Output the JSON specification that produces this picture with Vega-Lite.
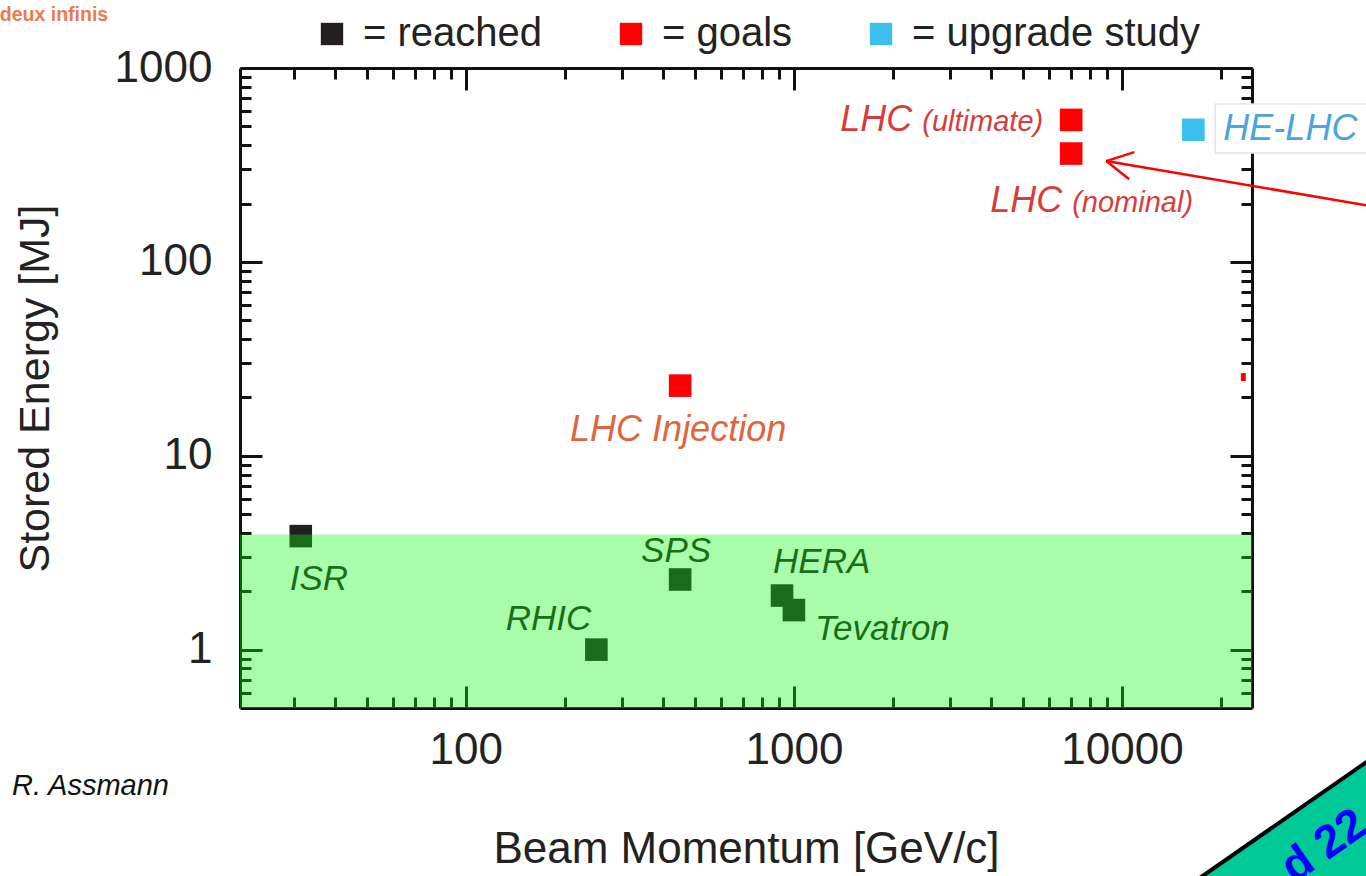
{
  "$schema": "https://vega.github.io/schema/vega-lite/v6.json",
  "width": 1012,
  "height": 640,
  "autosize": "none",
  "padding": {"left": 240, "top": 68, "right": 114, "bottom": 168},
  "background": "white",
  "config": {"view": {"stroke": null}, "font": "Liberation Sans"},
  "datasets": {
    "acc": [
      {"name": "ISR", "p": 31.4, "E": 3.85, "cat": "= reached"},
      {"name": "RHIC", "p": 250, "E": 1.0, "cat": "= reached"},
      {"name": "SPS", "p": 450, "E": 2.3, "cat": "= reached"},
      {"name": "HERA", "p": 920, "E": 1.9, "cat": "= reached"},
      {"name": "Tevatron", "p": 1000, "E": 1.6, "cat": "= reached"},
      {"name": "LHC Injection", "p": 450, "E": 23, "cat": "= goals"},
      {"name": "LHC (nominal)", "p": 7000, "E": 362, "cat": "= goals"},
      {"name": "LHC (ultimate)", "p": 7000, "E": 540, "cat": "= goals"},
      {"name": "HE-LHC", "p": 16500, "E": 480, "cat": "= upgrade study"}
    ],
    "band": [{"lo": 0.5, "hi": 3.93}],
    "one": [{"k": 1}]
  },
  "data": {"name": "acc"},
  "resolve": {"scale": {"x": "shared", "y": "shared"}, "axis": {"x": "independent", "y": "independent"}},
  "layer": [
    {
      "data": {"name": "one"},
      "mark": {"type": "rect", "fill": "white", "stroke": "#e4e4e4", "strokeWidth": 1.5},
      "encoding": {
        "x": {"datum": 19250, "type": "quantitative", "scale": {"type": "log", "domain": [20.5, 24900], "nice": false}, "axis": null},
        "x2": {"datum": 60000},
        "y": {"datum": 652, "type": "quantitative", "scale": {"type": "log", "domain": [0.5, 1000], "nice": false}, "axis": null},
        "y2": {"datum": 364}
      }
    },
    {
      "mark": {"type": "point", "shape": "square", "filled": true, "opacity": 1, "size": 510, "strokeWidth": 0},
      "encoding": {
        "x": {
          "field": "p", "type": "quantitative",
          "scale": {"type": "log", "domain": [20.5, 24900], "nice": false},
          "axis": {
            "orient": "bottom",
            "values": [30, 40, 50, 60, 70, 80, 90, 100, 200, 300, 400, 500, 600, 700, 800, 900, 1000, 2000, 3000, 4000, 5000, 6000, 7000, 8000, 9000, 10000, 20000],
            "labelExpr": "indexof([100, 1000, 10000], datum.value) >= 0 ? format(datum.value, 'd') : ''",
            "tickSize": {"condition": {"test": "indexof([100, 1000, 10000], datum.value) >= 0", "value": -22}, "value": -11},
            "tickWidth": 3, "tickColor": "#111", "domainColor": "#111", "domainWidth": 3, "grid": false,
            "labelFont": "Liberation Sans", "labelFontSize": 44, "labelColor": "#222", "labelPadding": 42, "labelFlush": false, "labelOverlap": false,
            "title": "Beam Momentum [GeV/c]", "titleFont": "Liberation Sans", "titleFontSize": 44, "titleFontWeight": "normal", "titleColor": "#222", "titlePadding": 44
          }
        },
        "y": {
          "field": "E", "type": "quantitative",
          "scale": {"type": "log", "domain": [0.5, 1000], "nice": false},
          "axis": {
            "orient": "left",
            "values": [0.6, 0.7, 0.8, 0.9, 1, 2, 3, 4, 5, 6, 7, 8, 9, 10, 20, 30, 40, 50, 60, 70, 80, 90, 100, 200, 300, 400, 500, 600, 700, 800, 900, 1000],
            "labelExpr": "indexof([1, 10, 100, 1000], datum.value) >= 0 ? format(datum.value, 'd') : ''",
            "tickSize": {"condition": {"test": "indexof([1, 10, 100, 1000], datum.value) >= 0", "value": -22}, "value": -11},
            "tickWidth": 3, "tickColor": "#111", "domainColor": "#111", "domainWidth": 3, "grid": false,
            "labelFont": "Liberation Sans", "labelFontSize": 44, "labelColor": "#222", "labelPadding": 50, "labelFlush": false, "labelOverlap": false,
            "title": "Stored Energy [MJ]", "titleFont": "Liberation Sans", "titleFontSize": 43, "titleFontWeight": "normal", "titleColor": "#222", "titlePadding": 57
          }
        },
        "color": {
          "field": "cat", "type": "nominal",
          "scale": {"domain": ["= reached", "= goals", "= upgrade study"], "range": ["#231f20", "#ff0000", "#3bbfee"]},
          "legend": {
            "orient": "none", "legendX": 72, "legendY": -54, "direction": "horizontal", "title": null,
            "symbolType": "square", "symbolSize": 500, "symbolStrokeWidth": 0, "symbolOpacity": 1,
            "labelFont": "Liberation Sans", "labelFontSize": 40, "labelColor": "#222", "labelOffset": 11,
            "columnPadding": 68, "labelLimit": 500
          }
        }
      }
    },
    {
      "mark": {"type": "point", "opacity": 0},
      "encoding": {
        "x": {
          "field": "p", "type": "quantitative",
          "scale": {"type": "log", "domain": [20.5, 24900], "nice": false},
          "axis": {
            "orient": "top",
            "values": [30, 40, 50, 60, 70, 80, 90, 100, 200, 300, 400, 500, 600, 700, 800, 900, 1000, 2000, 3000, 4000, 5000, 6000, 7000, 8000, 9000, 10000, 20000],
            "labels": false,
            "tickSize": {"condition": {"test": "indexof([100, 1000, 10000], datum.value) >= 0", "value": -22}, "value": -11},
            "tickWidth": 3, "tickColor": "#111", "domainColor": "#111", "domainWidth": 3, "grid": false, "title": null
          }
        },
        "y": {
          "field": "E", "type": "quantitative",
          "scale": {"type": "log", "domain": [0.5, 1000], "nice": false},
          "axis": {
            "orient": "right",
            "values": [0.6, 0.7, 0.8, 0.9, 1, 2, 3, 4, 5, 6, 7, 8, 9, 10, 20, 30, 40, 50, 60, 70, 80, 90, 100, 200, 300, 400, 500, 600, 700, 800, 900, 1000],
            "labels": false,
            "tickSize": {"condition": {"test": "indexof([1, 10, 100, 1000], datum.value) >= 0", "value": -22}, "value": -11},
            "tickWidth": 3, "tickColor": "#111", "domainColor": "#111", "domainWidth": 3, "grid": false, "title": null
          }
        }
      }
    },
    {
      "transform": [{"filter": "datum.name === 'ISR'"}],
      "mark": {"type": "text", "text": "ISR", "align": "left", "baseline": "alphabetic", "dx": -11, "dy": 54, "font": "Liberation Sans", "fontStyle": "italic", "fontSize": 35, "color": "#231f20"},
      "encoding": {
        "x": {"field": "p", "type": "quantitative", "scale": {"type": "log", "domain": [20.5, 24900], "nice": false}, "axis": null},
        "y": {"field": "E", "type": "quantitative", "scale": {"type": "log", "domain": [0.5, 1000], "nice": false}, "axis": null}
      }
    },
    {
      "transform": [{"filter": "datum.name === 'RHIC'"}],
      "mark": {"type": "text", "text": "RHIC", "align": "right", "baseline": "alphabetic", "dx": -5, "dy": -20, "font": "Liberation Sans", "fontStyle": "italic", "fontSize": 35, "color": "#231f20"},
      "encoding": {
        "x": {"field": "p", "type": "quantitative", "scale": {"type": "log", "domain": [20.5, 24900], "nice": false}, "axis": null},
        "y": {"field": "E", "type": "quantitative", "scale": {"type": "log", "domain": [0.5, 1000], "nice": false}, "axis": null}
      }
    },
    {
      "transform": [{"filter": "datum.name === 'SPS'"}],
      "mark": {"type": "text", "text": "SPS", "align": "center", "baseline": "alphabetic", "dx": -4, "dy": -18, "font": "Liberation Sans", "fontStyle": "italic", "fontSize": 35, "color": "#231f20"},
      "encoding": {
        "x": {"field": "p", "type": "quantitative", "scale": {"type": "log", "domain": [20.5, 24900], "nice": false}, "axis": null},
        "y": {"field": "E", "type": "quantitative", "scale": {"type": "log", "domain": [0.5, 1000], "nice": false}, "axis": null}
      }
    },
    {
      "transform": [{"filter": "datum.name === 'HERA'"}],
      "mark": {"type": "text", "text": "HERA", "align": "left", "baseline": "alphabetic", "dx": -9, "dy": -23, "font": "Liberation Sans", "fontStyle": "italic", "fontSize": 35, "color": "#231f20"},
      "encoding": {
        "x": {"field": "p", "type": "quantitative", "scale": {"type": "log", "domain": [20.5, 24900], "nice": false}, "axis": null},
        "y": {"field": "E", "type": "quantitative", "scale": {"type": "log", "domain": [0.5, 1000], "nice": false}, "axis": null}
      }
    },
    {
      "transform": [{"filter": "datum.name === 'Tevatron'"}],
      "mark": {"type": "text", "text": "Tevatron", "align": "left", "baseline": "alphabetic", "dx": 21, "dy": 30, "font": "Liberation Sans", "fontStyle": "italic", "fontSize": 35, "color": "#231f20"},
      "encoding": {
        "x": {"field": "p", "type": "quantitative", "scale": {"type": "log", "domain": [20.5, 24900], "nice": false}, "axis": null},
        "y": {"field": "E", "type": "quantitative", "scale": {"type": "log", "domain": [0.5, 1000], "nice": false}, "axis": null}
      }
    },
    {
      "transform": [{"filter": "datum.name === 'LHC Injection'"}],
      "mark": {"type": "text", "text": "LHC Injection", "align": "center", "baseline": "alphabetic", "dx": -2, "dy": 55, "font": "Liberation Sans", "fontStyle": "italic", "fontSize": 36, "color": "#e0643c"},
      "encoding": {
        "x": {"field": "p", "type": "quantitative", "scale": {"type": "log", "domain": [20.5, 24900], "nice": false}, "axis": null},
        "y": {"field": "E", "type": "quantitative", "scale": {"type": "log", "domain": [0.5, 1000], "nice": false}, "axis": null}
      }
    },
    {
      "transform": [{"filter": "datum.name === 'LHC (ultimate)'"}],
      "mark": {"type": "text", "text": "LHC", "align": "right", "baseline": "alphabetic", "dx": -159, "dy": 11, "font": "Liberation Sans", "fontStyle": "italic", "fontSize": 36, "color": "#d63c3c"},
      "encoding": {
        "x": {"field": "p", "type": "quantitative", "scale": {"type": "log", "domain": [20.5, 24900], "nice": false}, "axis": null},
        "y": {"field": "E", "type": "quantitative", "scale": {"type": "log", "domain": [0.5, 1000], "nice": false}, "axis": null}
      }
    },
    {
      "transform": [{"filter": "datum.name === 'LHC (ultimate)'"}],
      "mark": {"type": "text", "text": "(ultimate)", "align": "right", "baseline": "alphabetic", "dx": -28, "dy": 11, "font": "Liberation Sans", "fontStyle": "italic", "fontSize": 29, "color": "#d63c3c"},
      "encoding": {
        "x": {"field": "p", "type": "quantitative", "scale": {"type": "log", "domain": [20.5, 24900], "nice": false}, "axis": null},
        "y": {"field": "E", "type": "quantitative", "scale": {"type": "log", "domain": [0.5, 1000], "nice": false}, "axis": null}
      }
    },
    {
      "transform": [{"filter": "datum.name === 'LHC (nominal)'"}],
      "mark": {"type": "text", "text": "LHC", "align": "left", "baseline": "alphabetic", "dx": -81, "dy": 58, "font": "Liberation Sans", "fontStyle": "italic", "fontSize": 36, "color": "#d63c3c"},
      "encoding": {
        "x": {"field": "p", "type": "quantitative", "scale": {"type": "log", "domain": [20.5, 24900], "nice": false}, "axis": null},
        "y": {"field": "E", "type": "quantitative", "scale": {"type": "log", "domain": [0.5, 1000], "nice": false}, "axis": null}
      }
    },
    {
      "transform": [{"filter": "datum.name === 'LHC (nominal)'"}],
      "mark": {"type": "text", "text": "(nominal)", "align": "left", "baseline": "alphabetic", "dx": 1, "dy": 58, "font": "Liberation Sans", "fontStyle": "italic", "fontSize": 29, "color": "#d63c3c"},
      "encoding": {
        "x": {"field": "p", "type": "quantitative", "scale": {"type": "log", "domain": [20.5, 24900], "nice": false}, "axis": null},
        "y": {"field": "E", "type": "quantitative", "scale": {"type": "log", "domain": [0.5, 1000], "nice": false}, "axis": null}
      }
    },
    {
      "transform": [{"filter": "datum.name === 'HE-LHC'"}],
      "mark": {"type": "text", "text": "HE-LHC", "align": "left", "baseline": "alphabetic", "dx": 30, "dy": 10, "font": "Liberation Sans", "fontStyle": "italic", "fontSize": 36, "color": "#4aa5dc"},
      "encoding": {
        "x": {"field": "p", "type": "quantitative", "scale": {"type": "log", "domain": [20.5, 24900], "nice": false}, "axis": null},
        "y": {"field": "E", "type": "quantitative", "scale": {"type": "log", "domain": [0.5, 1000], "nice": false}, "axis": null}
      }
    },
    {
      "data": {"name": "one"},
      "mark": {"type": "rule", "color": "#ff0000", "strokeWidth": 2.5},
      "encoding": {
        "x": {"datum": 8950, "type": "quantitative", "scale": {"type": "log", "domain": [20.5, 24900], "nice": false}, "axis": null},
        "x2": {"datum": 70560},
        "y": {"datum": 331, "type": "quantitative", "scale": {"type": "log", "domain": [0.5, 1000], "nice": false}, "axis": null},
        "y2": {"datum": 183}
      }
    },
    {
      "data": {"name": "one"},
      "mark": {"type": "rule", "color": "#ff0000", "strokeWidth": 2.5},
      "encoding": {
        "x": {"datum": 8950, "type": "quantitative", "scale": {"type": "log", "domain": [20.5, 24900], "nice": false}, "axis": null},
        "x2": {"datum": 10900},
        "y": {"datum": 331, "type": "quantitative", "scale": {"type": "log", "domain": [0.5, 1000], "nice": false}, "axis": null},
        "y2": {"datum": 368}
      }
    },
    {
      "data": {"name": "one"},
      "mark": {"type": "rule", "color": "#ff0000", "strokeWidth": 2.5},
      "encoding": {
        "x": {"datum": 8950, "type": "quantitative", "scale": {"type": "log", "domain": [20.5, 24900], "nice": false}, "axis": null},
        "x2": {"datum": 10520},
        "y": {"datum": 331, "type": "quantitative", "scale": {"type": "log", "domain": [0.5, 1000], "nice": false}, "axis": null},
        "y2": {"datum": 267}
      }
    },
    {
      "data": {"name": "one"},
      "mark": {"type": "rule", "color": "#ff0000", "strokeWidth": 5},
      "encoding": {
        "x": {"datum": 23430, "type": "quantitative", "scale": {"type": "log", "domain": [20.5, 24900], "nice": false}, "axis": null},
        "y": {"datum": 26.7, "type": "quantitative", "scale": {"type": "log", "domain": [0.5, 1000], "nice": false}, "axis": null},
        "y2": {"datum": 24.3}
      }
    },
    {
      "data": {"name": "band"},
      "mark": {"type": "rect", "color": "#0df613", "opacity": 0.36},
      "encoding": {
        "y": {"field": "lo", "type": "quantitative", "scale": {"type": "log", "domain": [0.5, 1000], "nice": false}, "axis": null},
        "y2": {"field": "hi"}
      }
    },
    {
      "data": {"name": "one"},
      "mark": {"type": "text", "text": "R. Assmann", "align": "left", "baseline": "alphabetic", "font": "Liberation Sans", "fontStyle": "italic", "fontSize": 29, "color": "#111"},
      "encoding": {
        "x": {"datum": 4.14, "type": "quantitative", "scale": {"type": "log", "domain": [20.5, 24900], "nice": false}, "axis": null},
        "y": {"datum": 0.178, "type": "quantitative", "scale": {"type": "log", "domain": [0.5, 1000], "nice": false}, "axis": null}
      }
    },
    {
      "data": {"name": "one"},
      "mark": {"type": "text", "text": "deux infinis", "align": "left", "baseline": "alphabetic", "font": "Liberation Sans", "fontWeight": "bold", "fontSize": 19.5, "color": "#ec7a4e"},
      "encoding": {
        "x": {"datum": 3.8, "type": "quantitative", "scale": {"type": "log", "domain": [20.5, 24900], "nice": false}, "axis": null},
        "y": {"datum": 1738, "type": "quantitative", "scale": {"type": "log", "domain": [0.5, 1000], "nice": false}, "axis": null}
      }
    },
    {
      "data": {"name": "one"},
      "mark": {"type": "point", "shape": "square", "filled": true, "fill": "#00c896", "stroke": "#000", "strokeWidth": 4, "opacity": 1, "size": 90000, "angle": -34.8},
      "encoding": {
        "x": {"datum": 59600, "type": "quantitative", "scale": {"type": "log", "domain": [20.5, 24900], "nice": false}, "axis": null},
        "y": {"datum": 0.0326, "type": "quantitative", "scale": {"type": "log", "domain": [0.5, 1000], "nice": false}, "axis": null}
      }
    },
    {
      "data": {"name": "one"},
      "mark": {"type": "text", "text": "d 22", "align": "left", "baseline": "alphabetic", "angle": -34.8, "font": "Liberation Sans", "fontWeight": "bold", "fontSize": 46, "color": "#0000ff"},
      "encoding": {
        "x": {"datum": 33500, "type": "quantitative", "scale": {"type": "log", "domain": [20.5, 24900], "nice": false}, "axis": null},
        "y": {"datum": 0.062, "type": "quantitative", "scale": {"type": "log", "domain": [0.5, 1000], "nice": false}, "axis": null}
      }
    }
  ]
}
